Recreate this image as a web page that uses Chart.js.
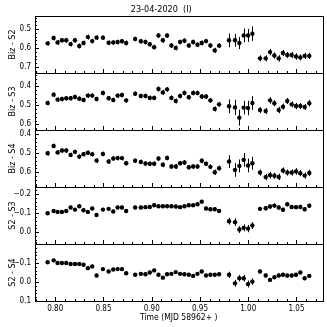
<!DOCTYPE html>
<html>
<head>
<meta charset="utf-8">
<script src="https://cdn.jsdelivr.net/npm/chart.js@4.4.1/dist/chart.umd.min.js"></script>
<style>
  html, body { margin: 0; padding: 0; background: #fff; }
  #wrap { position: relative; width: 327px; height: 327px; }
  #wrap canvas { position: absolute; left: 0; top: 0; }
</style>
</head>
<body>
<div id="wrap">
  <canvas id="p0" width="327" height="327"></canvas>
  <canvas id="p1" width="327" height="327"></canvas>
  <canvas id="p2" width="327" height="327"></canvas>
  <canvas id="p3" width="327" height="327"></canvas>
  <canvas id="p4" width="327" height="327"></canvas>
</div>
<script>
// time, days after MJD 58962
const mjd = [0.7921, 0.7983, 0.8024, 0.8069, 0.8114, 0.8159, 0.8204, 0.8249, 0.8293, 0.8338,
  0.8383, 0.8428, 0.8494, 0.8553, 0.8601, 0.8646, 0.8691, 0.8735, 0.8828, 0.8887,
  0.8935, 0.8980, 0.9025, 0.9070, 0.9115, 0.9159, 0.9204, 0.9249, 0.9294, 0.9339,
  0.9384, 0.9429, 0.9474, 0.9518, 0.9563, 0.9608, 0.9653, 0.9698, 0.9801, 0.9863,
  0.9908, 0.9953, 0.9998, 1.0043, 1.0122, 1.0181, 1.0226, 1.0271, 1.0316, 1.0360,
  1.0405, 1.0450, 1.0495, 1.0540, 1.0585, 1.0633];

// differential magnitudes
const bizS2 = [0.576, 0.548, 0.571, 0.560, 0.560, 0.580, 0.560, 0.590, 0.574, 0.543,
  0.564, 0.546, 0.546, 0.573, 0.571, 0.569, 0.565, 0.574, 0.553, 0.565,
  0.569, 0.581, 0.596, 0.535, 0.560, 0.535, 0.587, 0.600, 0.569, 0.562,
  0.587, 0.569, 0.583, 0.574, 0.564, 0.587, 0.613, 0.588, 0.560, 0.560,
  0.574, 0.534, 0.534, 0.525, 0.655, 0.655, 0.622, 0.640, 0.655, 0.627,
  0.637, 0.637, 0.645, 0.650, 0.642, 0.642];
const bizS3 = [0.488, 0.444, 0.470, 0.467, 0.463, 0.463, 0.456, 0.465, 0.472, 0.449,
  0.449, 0.467, 0.435, 0.463, 0.472, 0.449, 0.446, 0.474, 0.439, 0.451,
  0.451, 0.461, 0.461, 0.414, 0.432, 0.416, 0.461, 0.477, 0.451, 0.435,
  0.458, 0.435, 0.435, 0.454, 0.454, 0.474, 0.519, 0.495, 0.505, 0.511,
  0.565, 0.512, 0.514, 0.488, 0.525, 0.530, 0.474, 0.489, 0.525, 0.507,
  0.477, 0.495, 0.504, 0.504, 0.509, 0.489];
const bizS4 = [0.500, 0.462, 0.496, 0.486, 0.486, 0.509, 0.493, 0.518, 0.505, 0.498,
  0.505, 0.539, 0.504, 0.544, 0.528, 0.526, 0.526, 0.553, 0.540, 0.546,
  0.554, 0.556, 0.556, 0.528, 0.561, 0.525, 0.570, 0.570, 0.553, 0.549,
  0.574, 0.570, 0.570, 0.540, 0.556, 0.572, 0.600, 0.579, 0.544, 0.588,
  0.567, 0.535, 0.565, 0.553, 0.602, 0.626, 0.616, 0.619, 0.625, 0.591,
  0.602, 0.602, 0.596, 0.605, 0.618, 0.604];
const s2S3 = [-0.100, -0.112, -0.107, -0.107, -0.112, -0.130, -0.119, -0.137, -0.116, -0.107,
  -0.125, -0.091, -0.119, -0.123, -0.109, -0.130, -0.130, -0.112, -0.130, -0.130,
  -0.132, -0.133, -0.142, -0.137, -0.137, -0.137, -0.137, -0.135, -0.132, -0.137,
  -0.142, -0.142, -0.147, -0.161, -0.125, -0.121, -0.121, -0.112, -0.058, -0.053,
  -0.014, -0.023, -0.019, -0.035, -0.123, -0.126, -0.135, -0.140, -0.130, -0.118,
  -0.147, -0.133, -0.132, -0.133, -0.121, -0.139];
const s2S4 = [-0.104, -0.114, -0.100, -0.100, -0.100, -0.095, -0.095, -0.095, -0.091, -0.073,
  -0.082, -0.034, -0.068, -0.055, -0.066, -0.068, -0.068, -0.046, -0.038, -0.043,
  -0.041, -0.050, -0.061, -0.038, -0.023, -0.041, -0.043, -0.052, -0.043, -0.041,
  -0.038, -0.032, -0.043, -0.055, -0.034, -0.038, -0.038, -0.041, -0.038, 0.007,
  -0.020, -0.020, 0.011, -0.002, -0.055, -0.034, -0.011, -0.025, -0.034, -0.038,
  -0.034, -0.034, -0.038, -0.050, -0.020, -0.032];

// 1-sigma errors
const errBizS2 = [0.012, 0.012, 0.013, 0.012, 0.013, 0.012, 0.013, 0.013, 0.012, 0.013,
  0.012, 0.013, 0.012, 0.012, 0.013, 0.012, 0.012, 0.013, 0.012, 0.012,
  0.013, 0.012, 0.013, 0.013, 0.013, 0.012, 0.013, 0.013, 0.012, 0.013,
  0.012, 0.013, 0.012, 0.013, 0.012, 0.013, 0.014, 0.013, 0.036, 0.034,
  0.032, 0.036, 0.034, 0.038, 0.016, 0.016, 0.017, 0.016, 0.017, 0.016,
  0.016, 0.016, 0.017, 0.016, 0.016, 0.017];
const errBizS3 = [0.012, 0.012, 0.012, 0.012, 0.012, 0.012, 0.012, 0.012, 0.012, 0.012,
  0.012, 0.012, 0.012, 0.012, 0.012, 0.012, 0.012, 0.012, 0.012, 0.012,
  0.012, 0.012, 0.012, 0.013, 0.013, 0.012, 0.013, 0.013, 0.012, 0.013,
  0.012, 0.013, 0.012, 0.013, 0.012, 0.013, 0.014, 0.013, 0.036, 0.040,
  0.042, 0.036, 0.038, 0.036, 0.016, 0.016, 0.017, 0.016, 0.017, 0.016,
  0.016, 0.016, 0.017, 0.016, 0.016, 0.017];
const errBizS4 = [0.012, 0.012, 0.012, 0.012, 0.012, 0.012, 0.012, 0.012, 0.012, 0.012,
  0.012, 0.013, 0.012, 0.012, 0.012, 0.012, 0.012, 0.012, 0.012, 0.012,
  0.012, 0.012, 0.012, 0.013, 0.013, 0.012, 0.013, 0.013, 0.012, 0.013,
  0.012, 0.013, 0.012, 0.013, 0.012, 0.013, 0.014, 0.013, 0.034, 0.036,
  0.034, 0.036, 0.036, 0.034, 0.016, 0.016, 0.017, 0.016, 0.017, 0.016,
  0.016, 0.016, 0.017, 0.016, 0.016, 0.017];
const errS2S3 = [0.009, 0.009, 0.009, 0.009, 0.009, 0.009, 0.009, 0.009, 0.009, 0.009,
  0.009, 0.010, 0.009, 0.009, 0.009, 0.009, 0.009, 0.009, 0.009, 0.009,
  0.009, 0.009, 0.009, 0.009, 0.009, 0.009, 0.009, 0.009, 0.009, 0.009,
  0.009, 0.009, 0.009, 0.009, 0.009, 0.009, 0.010, 0.010, 0.018, 0.020,
  0.018, 0.018, 0.019, 0.018, 0.011, 0.011, 0.011, 0.011, 0.011, 0.011,
  0.011, 0.011, 0.011, 0.011, 0.011, 0.011];
const errS2S4 = [0.008, 0.008, 0.008, 0.008, 0.008, 0.008, 0.008, 0.008, 0.008, 0.008,
  0.008, 0.009, 0.008, 0.008, 0.008, 0.008, 0.008, 0.008, 0.008, 0.008,
  0.008, 0.008, 0.008, 0.008, 0.008, 0.008, 0.008, 0.008, 0.008, 0.008,
  0.008, 0.008, 0.008, 0.008, 0.008, 0.008, 0.008, 0.008, 0.016, 0.018,
  0.017, 0.017, 0.018, 0.017, 0.010, 0.010, 0.010, 0.010, 0.010, 0.010,
  0.010, 0.010, 0.010, 0.010, 0.010, 0.010];

const panelLabels = ['Biz - S2', 'Biz - S3', 'Biz - S4', 'S2 - S3', 'S2 - S4'];
const yTicks = [[0.5, 0.6, 0.7], [0.4, 0.5, 0.6], [0.4, 0.5, 0.6], [-0.2, -0.1, 0.0], [-0.1, 0.0, 0.1]];
const xTicks = [0.80, 0.85, 0.90, 0.95, 1.00, 1.05];

const series = [bizS2, bizS3, bizS4, s2S3, s2S4];
const errors = [errBizS2, errBizS3, errBizS4, errS2S3, errS2S4];
const yRanges = [[0.432, 0.732], [0.330, 0.630], [0.378, 0.678], [-0.238, 0.062], [-0.200, 0.100]];
const xRange = [0.779, 1.077];

const narrow = "'Liberation Sans Narrow', 'DejaVu Sans Condensed', 'DejaVu Sans', sans-serif";
const PANEL_TOP = 16, PANEL_H = 57, LEFT = 35, RIGHT_PAD = 4.5;

// error bars under the points, boxed frame and inward ticks on top
const panelDecor = {
  id: 'panelDecor',
  beforeDatasetsDraw(chart) {
    const { ctx, scales: { x, y } } = chart;
    const ds = chart.data.datasets[0];
    ctx.save();
    ctx.strokeStyle = '#000';
    ctx.lineWidth = 1;
    ds.data.forEach((p, k) => {
      const px = Math.round(x.getPixelForValue(p.x)) + 0.5;
      ctx.beginPath();
      ctx.moveTo(px, y.getPixelForValue(p.y - ds.errors[k]));
      ctx.lineTo(px, y.getPixelForValue(p.y + ds.errors[k]));
      ctx.stroke();
    });
    ctx.restore();
  },
  afterDraw(chart) {
    const { ctx, chartArea: a, scales: { x, y } } = chart;
    ctx.save();
    ctx.strokeStyle = '#000';
    ctx.lineWidth = 1;
    ctx.beginPath();
    // minor + major x ticks along the bottom edge
    for (let t = 0.78; t <= xRange[1]; t += 0.01) {
      const v = Math.round(t * 100) / 100;
      const major = xTicks.some(m => Math.abs(m - v) < 1e-6);
      const px = Math.round(x.getPixelForValue(v)) + 0.5;
      ctx.moveTo(px, a.bottom);
      ctx.lineTo(px, a.bottom - (major ? 4 : 2));
    }
    // minor + major y ticks along the left edge
    const [lo, hi] = [y.min, y.max];
    for (let t = Math.ceil(lo * 50) / 50; t <= hi; t += 0.02) {
      const v = Math.round(t * 100) / 100;
      const major = Math.abs(v * 10 - Math.round(v * 10)) < 1e-6;
      const py = Math.round(y.getPixelForValue(v)) + 0.5;
      ctx.moveTo(a.left, py);
      ctx.lineTo(a.left + (major ? 4 : 2), py);
    }
    ctx.stroke();
    ctx.strokeRect(Math.round(a.left) + 0.5, Math.round(a.top) + 0.5,
      Math.round(a.right - a.left), Math.round(a.bottom - a.top));
    ctx.restore();
  }
};

function makePanel(i) {
  const last = i === series.length - 1;
  const top = PANEL_TOP + PANEL_H * i;
  const bottom = 327 - (top + PANEL_H);

  new Chart(document.getElementById('p' + i), {
    type: 'scatter',
    data: {
      datasets: [{
        data: mjd.map((t, k) => ({ x: t, y: series[i][k] })),
        errors: errors[i],
        pointRadius: 2.2,
        pointBackgroundColor: '#000',
        pointBorderWidth: 0,
        showLine: false
      }]
    },
    options: {
      responsive: false,
      animation: false,
      events: [],
      layout: {
        padding: { left: 0, right: RIGHT_PAD, top: i === 0 ? 0 : top, bottom: last ? 0 : bottom }
      },
      plugins: {
        legend: { display: false },
        tooltip: { enabled: false },
        title: {
          display: i === 0,
          text: '23-04-2020  (I)',
          color: '#000',
          font: { family: narrow, size: 9, weight: 'normal', lineHeight: 1 },
          padding: { top: 5, bottom: 2 }
        }
      },
      scales: {
        x: {
          type: 'linear',
          min: xRange[0],
          max: xRange[1],
          display: last,
          grid: { display: false, drawTicks: false },
          border: { display: false },
          afterBuildTicks: s => { s.ticks = xTicks.map(v => ({ value: v })); },
          afterFit: s => {
            if (!last) return;
            s.height = 327 - (PANEL_TOP + PANEL_H * 5);
            s.paddingLeft = 0;
            s.paddingRight = 0;
          },
          ticks: {
            color: '#000',
            padding: 3,
            maxRotation: 0,
            font: { family: narrow, size: 8 },
            callback: v => v.toFixed(2)
          },
          title: {
            display: true,
            text: 'Time (MJD 58962+ )',
            color: '#000',
            font: { family: narrow, size: 8.5 },
            padding: { top: 0, bottom: 4 }
          }
        },
        y: {
          reverse: true,
          min: yRanges[i][0],
          max: yRanges[i][1],
          grid: { display: false, drawTicks: false },
          border: { display: false },
          afterBuildTicks: s => { s.ticks = yTicks[i].map(v => ({ value: v })); },
          afterFit: s => { s.width = LEFT; s.paddingTop = 0; s.paddingBottom = 0; },
          ticks: {
            color: '#000',
            padding: 4,
            font: { family: narrow, size: 8 },
            callback: v => v.toFixed(1).replace('-', '\u2212')
          },
          title: {
            display: true,
            text: panelLabels[i],
            color: '#000',
            font: { family: "'DejaVu Sans', sans-serif", size: 8 },
            padding: { top: 8, bottom: 0 }
          }
        }
      }
    },
    plugins: [panelDecor]
  });
}

for (let i = 0; i < series.length; i++) makePanel(i);
</script>
</body>
</html>
